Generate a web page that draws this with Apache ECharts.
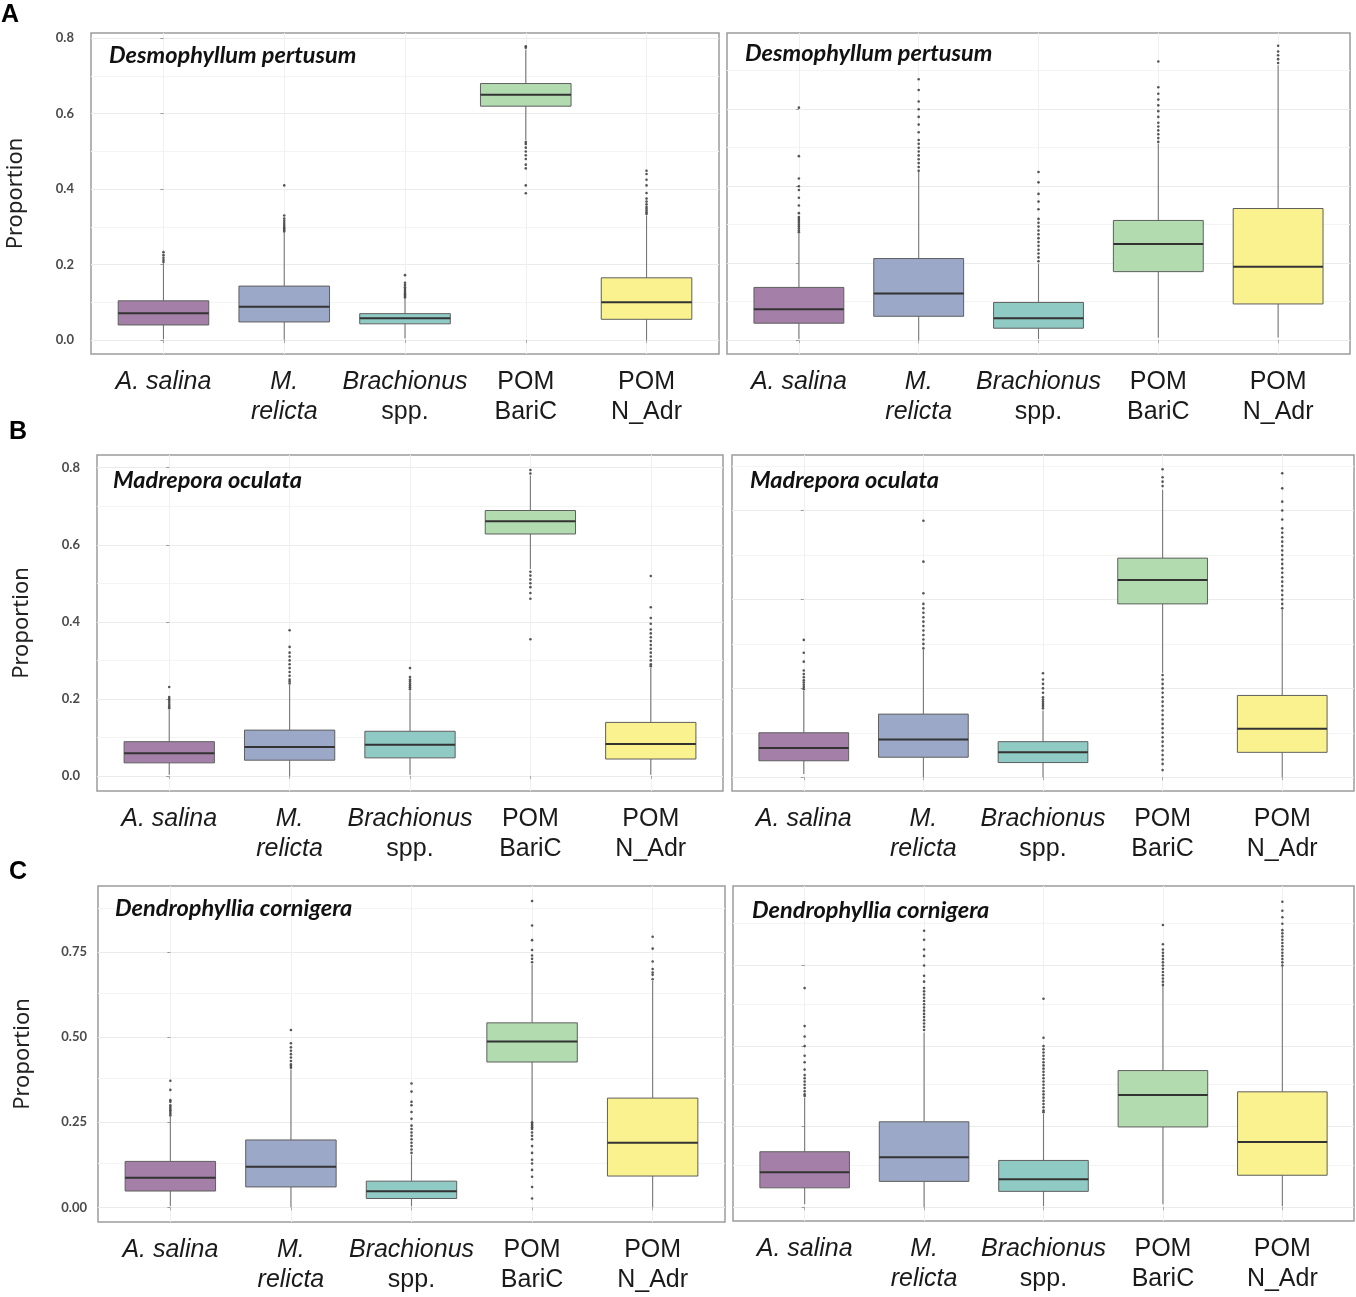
<!DOCTYPE html>
<html><head><meta charset="utf-8">
<script src="https://cdn.jsdelivr.net/npm/echarts@6/dist/echarts.min.js"></script>
<style>html,body{margin:0;padding:0;background:#fff}#c{width:1356px;height:1297px}</style>
</head><body><div id="c"></div>
<script>
// ---------------- DATA ----------------
const categoryLines = [['A. salina'], ['M.', 'relicta'], ['Brachionus', 'spp.'], ['POM', 'BariC'], ['POM', 'N_Adr']];
const categoryItalic = [[true], [true, true], [true, false], [false, false], [false, false]];
const speciesTitles = ['Desmophyllum pertusum', 'Madrepora oculata', 'Dendrophyllia cornigera'];
const panelLetters = ['A', 'B', 'C'];
const boxColors = ['#a47fa8', '#9ba8c8', '#8fcac5', '#b2dcb0', '#faf28f'];

// box stats per category: [lower whisker, Q1, median, Q3, upper whisker]
const statsA_left = [[0.002,0.040,0.071,0.104,0.204],[0.001,0.048,0.088,0.143,0.285],[0.004,0.043,0.058,0.070,0.110],[0.530,0.620,0.650,0.680,0.770],[0.000,0.055,0.100,0.165,0.330]];
const statsA_right = [[0.003,0.044,0.080,0.137,0.276],[0.000,0.062,0.121,0.212,0.437],[0.003,0.031,0.057,0.098,0.199],[0.006,0.178,0.250,0.311,0.510],[0.007,0.094,0.191,0.342,0.714]];
const statsB_left = [[0.003,0.034,0.059,0.089,0.172],[0.000,0.041,0.075,0.119,0.236],[0.003,0.047,0.081,0.116,0.220],[0.537,0.628,0.661,0.689,0.780],[0.003,0.044,0.083,0.139,0.280]];
const statsB_right = [[0.007,0.037,0.066,0.100,0.194],[0.000,0.045,0.085,0.142,0.287],[0.000,0.033,0.056,0.080,0.150],[0.235,0.390,0.444,0.493,0.647],[0.000,0.056,0.109,0.184,0.376]];
const statsC_left = [[0.004,0.048,0.087,0.135,0.266],[0.000,0.060,0.119,0.198,0.405],[0.003,0.026,0.047,0.077,0.154],[0.254,0.427,0.487,0.542,0.714],[0.000,0.092,0.190,0.321,0.665]];
const statsC_right = [[0.009,0.060,0.108,0.172,0.340],[0.000,0.080,0.155,0.265,0.542],[0.003,0.049,0.087,0.145,0.289],[0.009,0.249,0.348,0.424,0.687],[0.003,0.099,0.202,0.358,0.747]];

// outlier values per category
const outliersA_left = [
  [0.207,0.212,0.218,0.225,0.233],
  [0.288,0.292,0.296,0.300,0.305,0.310,0.316,0.322,0.330,0.410],
  [0.113,0.117,0.121,0.125,0.130,0.135,0.140,0.146,0.152,0.172],
  [0.775,0.779,0.525,0.520,0.510,0.500,0.490,0.480,0.465,0.455,0.410,0.389],
  [0.334,0.338,0.343,0.348,0.353,0.360,0.367,0.375,0.390,0.410,0.425,0.440,0.449]
];
const outliersA_right = [
  [0.280,0.285,0.290,0.295,0.300,0.305,0.310,0.315,0.320,0.330,0.350,0.370,0.390,0.400,0.420,0.478,0.604],
  [0.440,0.450,0.460,0.470,0.480,0.490,0.500,0.510,0.520,0.540,0.560,0.580,0.600,0.620,0.650,0.678],
  [0.205,0.215,0.225,0.235,0.245,0.255,0.265,0.275,0.285,0.295,0.305,0.315,0.340,0.360,0.380,0.410,0.437],
  [0.515,0.525,0.535,0.545,0.555,0.565,0.580,0.595,0.610,0.625,0.640,0.657,0.724],
  [0.720,0.730,0.740,0.750,0.765]
];
const outliersB_left = [
  [0.176,0.180,0.185,0.190,0.195,0.200,0.205,0.231],
  [0.240,0.245,0.250,0.260,0.270,0.280,0.290,0.300,0.310,0.320,0.335,0.378],
  [0.225,0.230,0.235,0.240,0.245,0.250,0.257,0.280],
  [0.785,0.794,0.530,0.520,0.510,0.500,0.490,0.475,0.460,0.355],
  [0.285,0.290,0.300,0.310,0.320,0.330,0.340,0.350,0.360,0.370,0.380,0.395,0.410,0.438,0.519]
];
const outliersB_right = [
  [0.198,0.203,0.208,0.213,0.218,0.225,0.232,0.240,0.260,0.280,0.309],
  [0.290,0.300,0.310,0.320,0.330,0.340,0.350,0.360,0.370,0.380,0.390,0.414,0.485,0.577],
  [0.155,0.160,0.165,0.170,0.175,0.180,0.190,0.200,0.210,0.220,0.234],
  [0.655,0.665,0.675,0.693,0.230,0.220,0.210,0.200,0.190,0.180,0.170,0.160,0.150,0.140,0.130,0.120,0.110,0.100,0.090,0.080,0.070,0.060,0.050,0.040,0.030,0.016],
  [0.380,0.390,0.400,0.410,0.420,0.430,0.440,0.450,0.460,0.470,0.480,0.490,0.500,0.510,0.520,0.530,0.540,0.550,0.560,0.580,0.600,0.620,0.650,0.684]
];
const outliersC_left = [
  [0.270,0.275,0.280,0.285,0.290,0.295,0.300,0.310,0.315,0.345,0.372],
  [0.410,0.415,0.420,0.430,0.440,0.450,0.460,0.470,0.482,0.521],
  [0.160,0.170,0.180,0.190,0.200,0.210,0.220,0.230,0.240,0.260,0.280,0.300,0.310,0.340,0.364],
  [0.720,0.730,0.740,0.756,0.785,0.828,0.900,0.250,0.245,0.240,0.235,0.230,0.220,0.210,0.200,0.180,0.160,0.140,0.129,0.110,0.090,0.060,0.026],
  [0.670,0.683,0.690,0.700,0.722,0.760,0.795]
];
const outliersC_right = [
  [0.345,0.350,0.360,0.370,0.380,0.390,0.400,0.410,0.427,0.450,0.470,0.500,0.530,0.562,0.680],
  [0.550,0.560,0.570,0.580,0.590,0.600,0.610,0.620,0.630,0.640,0.650,0.660,0.670,0.680,0.700,0.718,0.750,0.780,0.800,0.830,0.858],
  [0.295,0.300,0.310,0.320,0.330,0.340,0.350,0.360,0.370,0.380,0.390,0.400,0.410,0.420,0.430,0.440,0.450,0.460,0.470,0.480,0.490,0.500,0.526,0.647],
  [0.690,0.700,0.710,0.720,0.730,0.740,0.750,0.760,0.770,0.780,0.790,0.800,0.816,0.876],
  [0.750,0.760,0.770,0.780,0.790,0.800,0.810,0.820,0.830,0.840,0.850,0.860,0.880,0.900,0.920,0.948]
];

const yTicksAB = [0, 0.2, 0.4, 0.6, 0.8];
const yTicksC = [0, 0.25, 0.5, 0.75];
const yLimits = [[-0.037,0.814],[-0.036,0.798],[-0.039,0.833],[-0.031,0.725],[-0.043,0.944],[-0.043,0.997]];

// ---------------- LAYOUT ----------------
const frames = [
  {left:91, top:33, width:628, height:321},
  {left:727, top:33, width:623, height:321},
  {left:97, top:455, width:626, height:336},
  {left:732, top:455, width:622, height:336},
  {left:98, top:886, width:627, height:336},
  {left:733, top:886, width:621, height:335}
];
const titlePos = [[109,44],[745,42],[113,469],[750,469],[115,897],[752,899]];
const letterPos = [[1,3],[9,420],[9,860]];

const panels = [
  {stats: statsA_left, out: outliersA_left, ticks: yTicksAB, dec: 1, left: true, sp: 0},
  {stats: statsA_right, out: outliersA_right, ticks: yTicksAB, dec: 1, left: false, sp: 0},
  {stats: statsB_left, out: outliersB_left, ticks: yTicksAB, dec: 1, left: true, sp: 1},
  {stats: statsB_right, out: outliersB_right, ticks: yTicksAB, dec: 1, left: false, sp: 1},
  {stats: statsC_left, out: outliersC_left, ticks: yTicksC, dec: 2, left: true, sp: 2},
  {stats: statsC_right, out: outliersC_right, ticks: yTicksC, dec: 2, left: false, sp: 2}
];

const catIdx = categoryLines.map((_, i) => i);
const labelFont = 'Liberation Sans, Arial, sans-serif';

function catFormatter(v) {
  const i = Math.round(v);
  if (!categoryLines[i]) return '';
  return categoryLines[i].map((t, k) => '{' + (categoryItalic[i][k] ? 'it' : 'n') + '|' + t + '}').join('\n');
}

function renderBox(params, api) {
  const i = api.value(0);
  const lo = api.coord([i, api.value(1)]);
  const q1 = api.coord([i, api.value(2)]);
  const md = api.coord([i, api.value(3)]);
  const q3 = api.coord([i, api.value(4)]);
  const hi = api.coord([i, api.value(5)]);
  const w = api.size([0.75, 0])[0];
  const x0 = q1[0] - w / 2;
  return {
    type: 'group',
    children: [
      {type: 'line', shape: {x1: lo[0], y1: lo[1], x2: q1[0], y2: q1[1]}, style: {stroke: '#767676', lineWidth: 1.1}},
      {type: 'line', shape: {x1: q3[0], y1: q3[1], x2: hi[0], y2: hi[1]}, style: {stroke: '#767676', lineWidth: 1.1}},
      {type: 'rect', shape: {x: x0, y: q3[1], width: w, height: q1[1] - q3[1]}, style: {fill: boxColors[i], stroke: '#5f5f5f', lineWidth: 1}},
      {type: 'line', shape: {x1: x0, y1: md[1], x2: x0 + w, y2: md[1]}, style: {stroke: '#333333', lineWidth: 2}}
    ]
  };
}

const grid = [], xAxis = [], yAxis = [], series = [], title = [];

panels.forEach((p, k) => {
  grid.push(Object.assign({show: true, borderColor: '#9c9c9c', borderWidth: 1.5, backgroundColor: '#fff'}, frames[k]));
  xAxis.push({
    type: 'value', gridIndex: k, min: -0.6, max: 4.6,
    axisLine: {show: false},
    splitLine: {show: false},
    axisTick: {show: true, customValues: catIdx, length: 3, lineStyle: {color: '#aaaaaa'}},
    axisLabel: {
      show: true, customValues: catIdx, formatter: catFormatter, margin: 13,
      rich: {
        it: {fontFamily: labelFont, fontStyle: 'italic', fontSize: 25, lineHeight: 30, color: '#1a1a1a'},
        n: {fontFamily: labelFont, fontStyle: 'normal', fontSize: 25, lineHeight: 30, color: '#1a1a1a'}
      }
    }
  });
  yAxis.push({
    type: 'value', gridIndex: k, min: yLimits[k][0], max: yLimits[k][1],
    axisLine: {show: false},
    splitLine: {show: false},
    axisTick: {show: true, customValues: p.ticks, length: 3, lineStyle: {color: '#999999'}},
    axisLabel: {
      show: p.left, customValues: p.ticks, margin: p.dec === 2 ? 11 : 17,
      formatter: v => v.toFixed(p.dec),
      fontFamily: 'Lato, sans-serif', fontWeight: 'bold', fontSize: 13, color: '#4a4a4a'
    },
    name: p.left ? 'Proportion' : '',
    nameLocation: 'middle', nameGap: 64,
    nameTextStyle: {fontFamily: 'Noto Sans, sans-serif', fontSize: 22, color: '#222'}
  });

  // gridlines
  const major = p.ticks;
  const step = major[1] - major[0];
  const minor = [];
  for (let m = 0; m < major.length + 1; m++) {
    const v = major[0] + step * (m + 0.5);
    if (v < yLimits[k][1]) minor.push(v);
  }
  series.push({
    type: 'line', xAxisIndex: k, yAxisIndex: k, data: [], z: 0, silent: true,
    markLine: {
      silent: true, z: 0, symbol: ['none', 'none'], label: {show: false}, animation: false,
      data: [].concat(
        major.map(v => ({yAxis: v, lineStyle: {color: '#ebebeb', width: 1, type: 'solid'}})),
        minor.map(v => ({yAxis: v, lineStyle: {color: '#f4f4f4', width: 1, type: 'solid'}})),
        catIdx.map(v => ({xAxis: v, lineStyle: {color: '#f0f0f0', width: 1, type: 'solid'}}))
      )
    }
  });

  series.push({
    type: 'custom', xAxisIndex: k, yAxisIndex: k, z: 6,
    dimensions: ['x', 'lo', 'q1', 'med', 'q3', 'hi'],
    encode: {x: 0, y: [1, 2, 3, 4, 5]},
    data: p.stats.map((s, i) => [i].concat(s)),
    renderItem: renderBox
  });

  const pts = [];
  p.out.forEach((arr, i) => arr.forEach(v => pts.push([i, v])));
  series.push({
    type: 'scatter', xAxisIndex: k, yAxisIndex: k, z: 7,
    symbolSize: 2.6, data: pts,
    itemStyle: {color: '#444444', opacity: 0.9}
  });

  title.push({
    text: speciesTitles[p.sp], left: titlePos[k][0], top: titlePos[k][1], padding: 0,
    textStyle: {fontFamily: 'Lato, sans-serif', fontStyle: 'italic', fontWeight: 'bold', fontSize: 23.5, color: '#111'}
  });
});

panelLetters.forEach((L, i) => {
  title.push({
    text: L, left: letterPos[i][0], top: letterPos[i][1], padding: 0,
    textStyle: {fontFamily: 'Liberation Sans, Arial, sans-serif', fontWeight: 'bold', fontSize: 25, color: '#000'}
  });
});

const chart = echarts.init(document.getElementById('c'));
chart.setOption({animation: false, backgroundColor: '#fff', title, grid, xAxis, yAxis, series});
</script>
</body></html>
